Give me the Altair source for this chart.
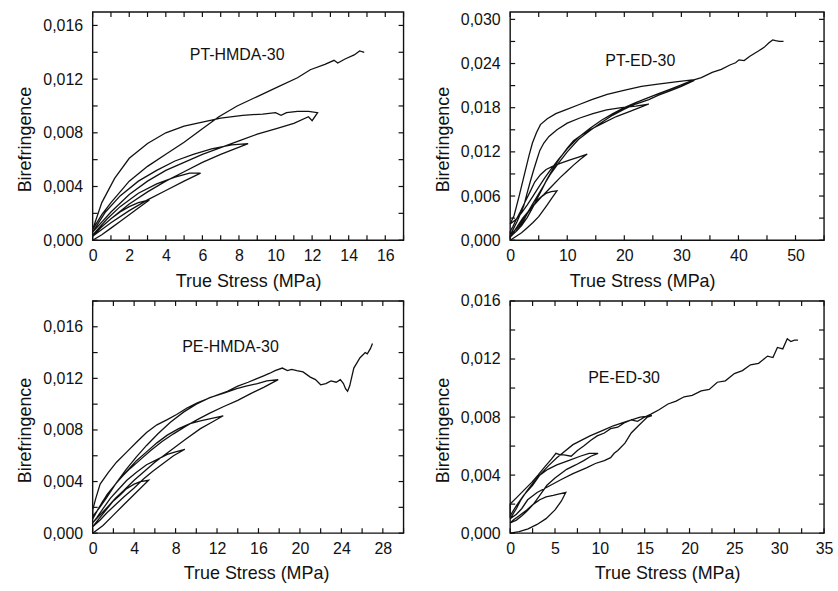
import altair as alt
import pandas as pd

FONT = "Liberation Sans"
INK = "#111111"

# ---------------- PT-HMDA-30 ----------------
p1_load1_x = [0, 0.5, 1.0, 1.5, 2.0, 2.5, 3.1]
p1_load1_y = [0, 0.0004, 0.0009, 0.0014, 0.0019, 0.0024, 0.0030]
p1_unload1_x = [3.1, 2.5, 2.0, 1.5, 1.0, 0.5, 0]
p1_unload1_y = [0.0030, 0.0028, 0.0025, 0.0021, 0.0016, 0.0010, 0.0003]
p1_load2_x = [0, 0.5, 1, 2, 3, 4, 5, 5.9]
p1_load2_y = [0.0003, 0.0008, 0.0013, 0.0022, 0.0030, 0.0037, 0.0044, 0.0050]
p1_unload2_x = [5.9, 5.3, 4.5, 3.5, 2.5, 1.5, 0.8, 0]
p1_unload2_y = [0.0050, 0.0050, 0.0047, 0.0042, 0.0035, 0.0025, 0.0016, 0.0004]
p1_load3_x = [0, 1, 2, 3, 4, 5, 6, 7, 8.5]
p1_load3_y = [0.0004, 0.0016, 0.0027, 0.0036, 0.0044, 0.0051, 0.0058, 0.0064, 0.0072]
p1_unload3_x = [8.5, 7.6, 6.5, 5.5, 4.5, 3.5, 2.5, 1.5, 0.7, 0]
p1_unload3_y = [0.0072, 0.0071, 0.0068, 0.0064, 0.0059, 0.0052, 0.0044, 0.0033, 0.0021, 0.0006]
p1_load4_x = [0, 1, 2, 3, 4, 5, 6, 7, 8, 9, 10, 11, 11.8, 12.0, 12.3]
p1_load4_y = [0.0006, 0.0021, 0.0034, 0.0044, 0.0052, 0.0058, 0.0064, 0.0069, 0.0074,
              0.0079, 0.0083, 0.0087, 0.0092, 0.0089, 0.0095]
p1_unload4_x = [12.3, 11.8, 11.2, 10.6, 10.3, 10.0, 9.3, 8.2, 7.0, 6.0, 5.0, 4.0, 3.0,
                2.0, 1.2, 0.5, 0]
p1_unload4_y = [0.0095, 0.0096, 0.0096, 0.0095, 0.0093, 0.0095, 0.0094, 0.0093, 0.0091,
                0.0088, 0.0085, 0.0080, 0.0072, 0.0061, 0.0046, 0.0028, 0.0008]
p1_load5_x = [0, 0.5, 1, 2, 3, 4, 5, 6, 6.9, 7.9, 9.0, 10.1, 11.2, 11.9, 12.7, 13.2,
              13.4, 13.8, 14.3, 14.6, 14.85]
p1_load5_y = [0.0008, 0.0019, 0.0028, 0.0044, 0.0055, 0.0064, 0.0073, 0.0083, 0.0092,
              0.0100, 0.0107, 0.0114, 0.0121, 0.0127, 0.0131, 0.0134, 0.0132, 0.0135,
              0.0138, 0.0141, 0.0140]

# ---------------- PT-ED-30 ----------------
p2_load1_x = [0, 1, 2, 3, 4, 5, 6.4, 7.3, 8.2]
p2_load1_y = [0, 0.0005, 0.0010, 0.0017, 0.0024, 0.0032, 0.0047, 0.0057, 0.0067]
p2_unload1_x = [8.2, 7.2, 6.4, 5.5, 4.7, 3.5, 2.2, 1.2, 0.5, 0]
p2_unload1_y = [0.0067, 0.0066, 0.0064, 0.0059, 0.0052, 0.0042, 0.0030, 0.0018, 0.0010, 0.0005]
p2_load2_x = [0, 1, 2, 3, 4, 5, 5.9, 7, 8.75, 10, 11.1, 12.3, 13.5]
p2_load2_y = [0.0005, 0.0012, 0.0022, 0.0036, 0.0047, 0.0056, 0.0062, 0.0071, 0.0085,
              0.0094, 0.0102, 0.0110, 0.0117]
p2_unload2_x = [13.5, 12, 10.5, 9, 7.6, 6.3, 5.3, 4.3, 3.5, 2.6, 1.8, 1.0, 0.5, 0]
p2_unload2_y = [0.0117, 0.0113, 0.0109, 0.0105, 0.0101, 0.0096, 0.0089, 0.0079, 0.0066,
                0.0052, 0.0039, 0.0027, 0.0019, 0.0012]
p2_load3_x = [0, 0.5, 1.2, 2, 3, 4, 4.7, 5.5, 6.4, 7.5, 8.75, 10, 11.1, 12.5, 14, 16,
              18.6, 21, 23, 24.3]
p2_load3_y = [0.0004, 0.0008, 0.0013, 0.0020, 0.0031, 0.0045, 0.0056, 0.0068, 0.0082,
              0.0097, 0.0112, 0.0125, 0.0135, 0.0143, 0.0150, 0.0158, 0.0168, 0.0175,
              0.0181, 0.0185]
p2_unload3_x = [24.3, 22, 19.5, 16.9, 14.5, 12.2, 10, 8.2, 6.8, 5.9, 5.2, 4.7, 4.1, 3.5,
                2.9, 2.4, 1.8, 1.2, 0.6, 0.2, 0]
p2_unload3_y = [0.0185, 0.0182, 0.0180, 0.0177, 0.0172, 0.0166, 0.0159, 0.0150, 0.0141,
                0.0132, 0.0122, 0.0110, 0.0095, 0.0079, 0.0062, 0.0047, 0.0036, 0.0025,
                0.0016, 0.0010, 0.0007]
p2_load4_x = [0, 1, 2, 3, 4, 5, 6, 7, 8.5, 10, 12, 14, 16, 18, 20, 22, 24.3, 26, 28, 30, 32.2]
p2_load4_y = [0.0007, 0.0015, 0.0025, 0.0037, 0.0050, 0.0063, 0.0076, 0.0089, 0.0105,
              0.0120, 0.0137, 0.0149, 0.0160, 0.0170, 0.0178, 0.0185, 0.0191, 0.0197,
              0.0203, 0.0209, 0.0217]
p2_unload4_x = [32.2, 29, 25.9, 23, 20.1, 17, 14.3, 12, 9.7, 8, 6.5, 5.3, 4.6, 3.9, 3.3,
                2.7, 1.6, 0.7, 0]
p2_unload4_y = [0.0218, 0.0215, 0.0212, 0.0209, 0.0204, 0.0198, 0.0191, 0.0184, 0.0177,
                0.0172, 0.0165, 0.0157, 0.0146, 0.0132, 0.0115, 0.0096, 0.0061, 0.0034,
                0.0022]
p2_load5_x = [0, 1, 2, 3, 4, 5, 6, 7, 8.5, 10, 12, 14, 16, 18, 20, 22, 24, 26, 28, 30,
              31.9, 33.5, 35.4, 37, 38.5, 39.5, 40.1, 41, 42, 43.5, 44.5, 45.3, 46,
              46.5, 47.2, 47.9]
p2_load5_y = [0.0022, 0.0028, 0.0037, 0.0048, 0.0060, 0.0072, 0.0084, 0.0095, 0.0110,
              0.0124, 0.0140, 0.0152, 0.0163, 0.0172, 0.0180, 0.0187, 0.0193, 0.0199,
              0.0205, 0.0211, 0.0217, 0.0221, 0.0228, 0.0232, 0.0238, 0.0241, 0.0245,
              0.0244, 0.0250, 0.0257, 0.0262, 0.0268, 0.0272, 0.0271, 0.0270, 0.0270]

# ---------------- PE-HMDA-30 ----------------
p3_load1_x = [0, 1, 2, 3, 4, 5.4]
p3_load1_y = [0, 0.0006, 0.0014, 0.0022, 0.0030, 0.0041]
p3_unload1_x = [5.4, 4.6, 4.0, 3.2, 2.7, 2.0, 1.4, 0.7, 0]
p3_unload1_y = [0.0041, 0.0040, 0.0038, 0.0034, 0.0030, 0.0025, 0.0019, 0.0012, 0.0005]
p3_load2_x = [0, 0.7, 1.4, 2.2, 3, 4, 4.9, 5.8, 6.8, 7.8, 8.9]
p3_load2_y = [0.0005, 0.0010, 0.0016, 0.0022, 0.0028, 0.0035, 0.0042, 0.0048, 0.0054,
              0.0060, 0.0065]
p3_unload2_x = [8.9, 8, 7.2, 6.2, 5.2, 4.2, 3.3, 2.5, 1.7, 1.0, 0.4, 0]
p3_unload2_y = [0.0065, 0.0063, 0.0061, 0.0057, 0.0053, 0.0047, 0.0041, 0.0034, 0.0027,
                0.0019, 0.0012, 0.0008]
p3_load3_x = [0, 0.7, 1.4, 2.2, 3, 4, 5, 6, 7, 8, 9, 10.4, 11.5, 12.6]
p3_load3_y = [0.0008, 0.0014, 0.0020, 0.0027, 0.0033, 0.0041, 0.0048, 0.0055, 0.0061,
              0.0067, 0.0073, 0.0081, 0.0086, 0.0091]
p3_unload3_x = [12.6, 11.5, 10.4, 9.4, 8.3, 7.2, 6.2, 5.2, 4.2, 3.3, 2.3, 1.4, 0.7, 0]
p3_unload3_y = [0.0091, 0.0089, 0.0087, 0.0085, 0.0081, 0.0076, 0.0070, 0.0063, 0.0056,
                0.0048, 0.0039, 0.0030, 0.0021, 0.0011]
p3_load4_x = [0, 0.4, 1.0, 1.7, 2.6, 3.6, 4.6, 5.6, 6.7, 7.8, 9, 10.1, 11.3, 12.6, 14,
              15.2, 16.5, 17.9]
p3_load4_y = [0.0011, 0.0017, 0.0025, 0.0033, 0.0042, 0.0050, 0.0057, 0.0064, 0.0071,
              0.0077, 0.0083, 0.0088, 0.0093, 0.0098, 0.0103, 0.0108, 0.0113, 0.0119]
p3_unload4_x = [17.9, 16.8, 15.9, 14.8, 13.9, 12.8, 11.3, 10, 8.8, 7.5, 6.3, 5.2, 4.2,
                3.2, 2.2, 1.3, 0.6, 0]
p3_unload4_y = [0.0119, 0.0118, 0.0116, 0.0114, 0.0112, 0.0109, 0.0105, 0.0100, 0.0094,
                0.0086, 0.0077, 0.0068, 0.0059, 0.0049, 0.0038, 0.0027, 0.0019, 0.0013]
p3_load5_x = [0, 0.3, 0.72, 1.5, 2.3, 3.3, 4.3, 5.2, 6.2, 7.2, 8.1, 9.1, 10.1, 11.0, 12,
              13, 14, 15, 15.9, 16.5, 17.1, 17.6, 18.3, 18.8, 19.2, 19.7, 20.3, 21, 21.5,
              22, 22.5, 23, 23.5, 23.9, 24.2, 24.4, 24.6, 24.8, 25.2, 25.8, 26.3, 26.5,
              26.8, 27.0]
p3_load5_y = [0.0018, 0.0027, 0.0038, 0.0047, 0.0055, 0.0063, 0.0071, 0.0078, 0.0084,
              0.0088, 0.0092, 0.0097, 0.0101, 0.0104, 0.0107, 0.0110, 0.0114, 0.0117,
              0.0120, 0.0122, 0.0124, 0.0126, 0.0128, 0.0126, 0.0127, 0.0126, 0.0125,
              0.0121, 0.0119, 0.0115, 0.0116, 0.0118, 0.0117, 0.0119, 0.0116, 0.0112,
              0.0110, 0.0114, 0.0128, 0.0136, 0.0140, 0.0139, 0.0143, 0.0147]

# ---------------- PE-ED-30 ----------------
p4_load1_x = [0, 1, 2, 3, 4, 5, 5.7, 6.2]
p4_load1_y = [0, 0.0001, 0.0003, 0.0006, 0.0010, 0.0016, 0.0022, 0.0028]
p4_unload1_x = [6.2, 5.5, 4.8, 4.0, 3.3, 2.6, 1.85, 1.0, 0.35, 0]
p4_unload1_y = [0.0028, 0.0027, 0.0026, 0.0025, 0.0023, 0.0020, 0.0016, 0.0012, 0.0009, 0.0007]
p4_load2_x = [0, 0.7, 1.3, 1.85, 2.6, 3.3, 4.1, 5.0, 6.3, 7.3, 8.2, 9.0, 9.8]
p4_load2_y = [0.0007, 0.0009, 0.0012, 0.0015, 0.0020, 0.0026, 0.0033, 0.0038, 0.0044,
              0.0047, 0.0050, 0.0053, 0.0055]
p4_unload2_x = [9.8, 8.8, 7.8, 6.5, 5.2, 4.2, 3.3, 2.6, 1.85, 1.2, 0.7, 0]
p4_unload2_y = [0.0055, 0.0055, 0.0053, 0.0050, 0.0047, 0.0044, 0.0040, 0.0035, 0.0029,
                0.0023, 0.0017, 0.0010]
p4_load3_x = [0, 0.7, 1.3, 1.95, 3, 4.2, 5.7, 7, 8.5, 9.5, 10.5, 11.2, 11.6, 12, 12.8,
              13.5, 14.3, 15.3, 15.8]
p4_load3_y = [0.0010, 0.0013, 0.0017, 0.0023, 0.0028, 0.0032, 0.0037, 0.0041, 0.0045,
              0.0048, 0.0050, 0.0052, 0.0055, 0.0057, 0.0062, 0.0069, 0.0074, 0.0080, 0.0081]
p4_unload3_x = [15.8, 14.5, 13, 11.5, 10.4, 8.9, 7, 5.2, 4.2, 3.3, 2.5, 1.5, 0.7, 0]
p4_unload3_y = [0.0081, 0.0080, 0.0077, 0.0074, 0.0071, 0.0067, 0.0061, 0.0052, 0.0046,
                0.0040, 0.0033, 0.0026, 0.0019, 0.0012]
p4_load4_x = [0, 0.8, 1.6, 2.4, 3.1, 3.9, 4.6, 5.1, 5.6, 6.0, 6.8, 7.5, 8.2, 9.0, 9.7,
              10.5, 11.2, 12.0, 12.7, 13.5, 14.2, 15.0, 15.7, 16.6, 17.6, 18.5, 19.4,
              20.3, 21.3, 22.2, 23.1, 24.0, 25.0, 25.9, 26.8, 27.7, 28.7, 29.3, 29.8,
              30.4, 30.9, 31.3, 31.7, 32.1]
p4_load4_y = [0.0020, 0.0025, 0.0030, 0.0035, 0.0040, 0.0046, 0.0051, 0.0055, 0.0054,
              0.0054, 0.0053, 0.0057, 0.0060, 0.0064, 0.0067, 0.0069, 0.0072, 0.0073,
              0.0076, 0.0078, 0.0077, 0.0080, 0.0082, 0.0085, 0.0089, 0.0091, 0.0094,
              0.0095, 0.0098, 0.0099, 0.0104, 0.0105, 0.0110, 0.0112, 0.0116, 0.0117,
              0.0122, 0.0121, 0.0128, 0.0127, 0.0134, 0.0132, 0.0133, 0.0133]

labels = ["PT-HMDA-30", "PT-ED-30", "PE-HMDA-30", "PE-ED-30"]
label_x = [7.9, 22.8, 13.3, 12.7]
label_y = [0.0138, 0.0244, 0.0144, 0.0107]


def build_path(segments):
    rows = []
    k = 0
    for xs, ys in segments:
        for x, y in zip(xs, ys):
            rows.append({"stress": x, "biref": y, "k": k})
            k += 1
    return pd.DataFrame(rows)


def tick_values(vmax, step):
    n = int(vmax / step + 1e-9)
    return [round(i * step, 6) for i in range(n + 1)]


TICK = 5


def panel(df, xmax, xminor, xmajor, ymax, yminor, ymajor, w, h, idx, xtitle_dx):
    xs = alt.Scale(domain=[0, xmax], nice=False, zero=True)
    ys = alt.Scale(domain=[0, ymax], nice=False, zero=True)
    xt = tick_values(xmax, xminor)
    yt = tick_values(ymax, yminor)
    xexpr = (f"abs(datum.value/{xmajor} - round(datum.value/{xmajor})) < 1e-6 ? "
             f"format(datum.value, 'd') : ''")
    yexpr = (f"abs(datum.value/{ymajor} - round(datum.value/{ymajor})) < 1e-6 ? "
             f"replace(format(datum.value, '.3f'), '.', ',') : ''")
    common = dict(domain=False, grid=False, ticks=False, tickSize=0,
                  labelFont=FONT, labelFontSize=16, labelColor=INK,
                  labelOverlap=False, labelFlush=False, titleFont=FONT, titleFontSize=18,
                  titleFontWeight="normal", titleColor=INK)
    ax_b = alt.Axis(values=xt, labelExpr=xexpr, title="True Stress (MPa)",
                    labelPadding=7, titlePadding=9, titleX=w / 2 + xtitle_dx, **common)
    ax_l = alt.Axis(values=yt, labelExpr=yexpr, title="Birefringence",
                    labelPadding=10, titlePadding=8, titleY=h / 2 + 13, **common)

    def X(field):
        return alt.X(field, scale=xs, axis=ax_b)

    def Y(field):
        return alt.Y(field, scale=ys, axis=ax_l)

    line = alt.Chart(df).mark_line(color=INK, strokeWidth=1.3).encode(
        x=X("stress:Q"), y=Y("biref:Q"), order="k:Q")
    xdf = pd.DataFrame({"v": xt})
    ydf = pd.DataFrame({"v": yt})
    tick_style = dict(color=INK, strokeWidth=1.2)
    t_bottom = alt.Chart(xdf).mark_rule(**tick_style).encode(
        x=X("v:Q"), y=alt.value(h), y2=alt.value(h - TICK))
    t_top = alt.Chart(xdf).mark_rule(**tick_style).encode(
        x=X("v:Q"), y=alt.value(0), y2=alt.value(TICK))
    t_left = alt.Chart(ydf).mark_rule(**tick_style).encode(
        y=Y("v:Q"), x=alt.value(0), x2=alt.value(TICK))
    t_right = alt.Chart(ydf).mark_rule(**tick_style).encode(
        y=Y("v:Q"), x=alt.value(w - TICK), x2=alt.value(w))
    frame = alt.Chart(pd.DataFrame({"f": [0]})).mark_rect(
        fillOpacity=0, stroke=INK, strokeWidth=1.4).encode(
        x=alt.value(0), x2=alt.value(w), y=alt.value(0), y2=alt.value(h))
    tdf = pd.DataFrame({"x": [label_x[idx]], "y": [label_y[idx]], "t": [labels[idx]]})
    text = alt.Chart(tdf).mark_text(font=FONT, fontSize=16, color=INK).encode(
        x=X("x:Q"), y=Y("y:Q"), text="t:N")
    return alt.layer(line, t_bottom, t_top, t_left, t_right, frame, text).properties(
        width=w, height=h)


df1 = build_path([(p1_load1_x, p1_load1_y), (p1_unload1_x, p1_unload1_y),
                  (p1_load2_x, p1_load2_y), (p1_unload2_x, p1_unload2_y),
                  (p1_load3_x, p1_load3_y), (p1_unload3_x, p1_unload3_y),
                  (p1_load4_x, p1_load4_y), (p1_unload4_x, p1_unload4_y),
                  (p1_load5_x, p1_load5_y)])
df2 = build_path([(p2_load1_x, p2_load1_y), (p2_unload1_x, p2_unload1_y),
                  (p2_load2_x, p2_load2_y), (p2_unload2_x, p2_unload2_y),
                  (p2_load3_x, p2_load3_y), (p2_unload3_x, p2_unload3_y),
                  (p2_load4_x, p2_load4_y), (p2_unload4_x, p2_unload4_y),
                  (p2_load5_x, p2_load5_y)])
df3 = build_path([(p3_load1_x, p3_load1_y), (p3_unload1_x, p3_unload1_y),
                  (p3_load2_x, p3_load2_y), (p3_unload2_x, p3_unload2_y),
                  (p3_load3_x, p3_load3_y), (p3_unload3_x, p3_unload3_y),
                  (p3_load4_x, p3_load4_y), (p3_unload4_x, p3_unload4_y),
                  (p3_load5_x, p3_load5_y)])
df4 = build_path([(p4_load1_x, p4_load1_y), (p4_unload1_x, p4_unload1_y),
                  (p4_load2_x, p4_load2_y), (p4_unload2_x, p4_unload2_y),
                  (p4_load3_x, p4_load3_y), (p4_unload3_x, p4_unload3_y),
                  (p4_load4_x, p4_load4_y)])

c1 = panel(df1, 17, 1, 2, 0.017, 0.002, 0.004, 312, 229, 0, 0)
c2 = panel(df2, 55, 5, 10, 0.031, 0.003, 0.006, 315, 229, 1, -25)
c3 = panel(df3, 30, 2, 4, 0.018, 0.002, 0.004, 312, 233, 2, 8)
c4 = panel(df4, 35, 2.5, 5, 0.016, 0.002, 0.004, 315, 233, 3, 0)

chart = alt.concat(c1, c2, c3, c4, columns=2, spacing={"row": 61, "column": 107},
                   bounds="flush", align="each").configure_view(
    strokeWidth=0).properties(
    padding={"left": 16, "top": 10, "right": 5, "bottom": 5},
    background="white")

chart.save("out.html", embed_options={"renderer": "svg", "actions": False})
